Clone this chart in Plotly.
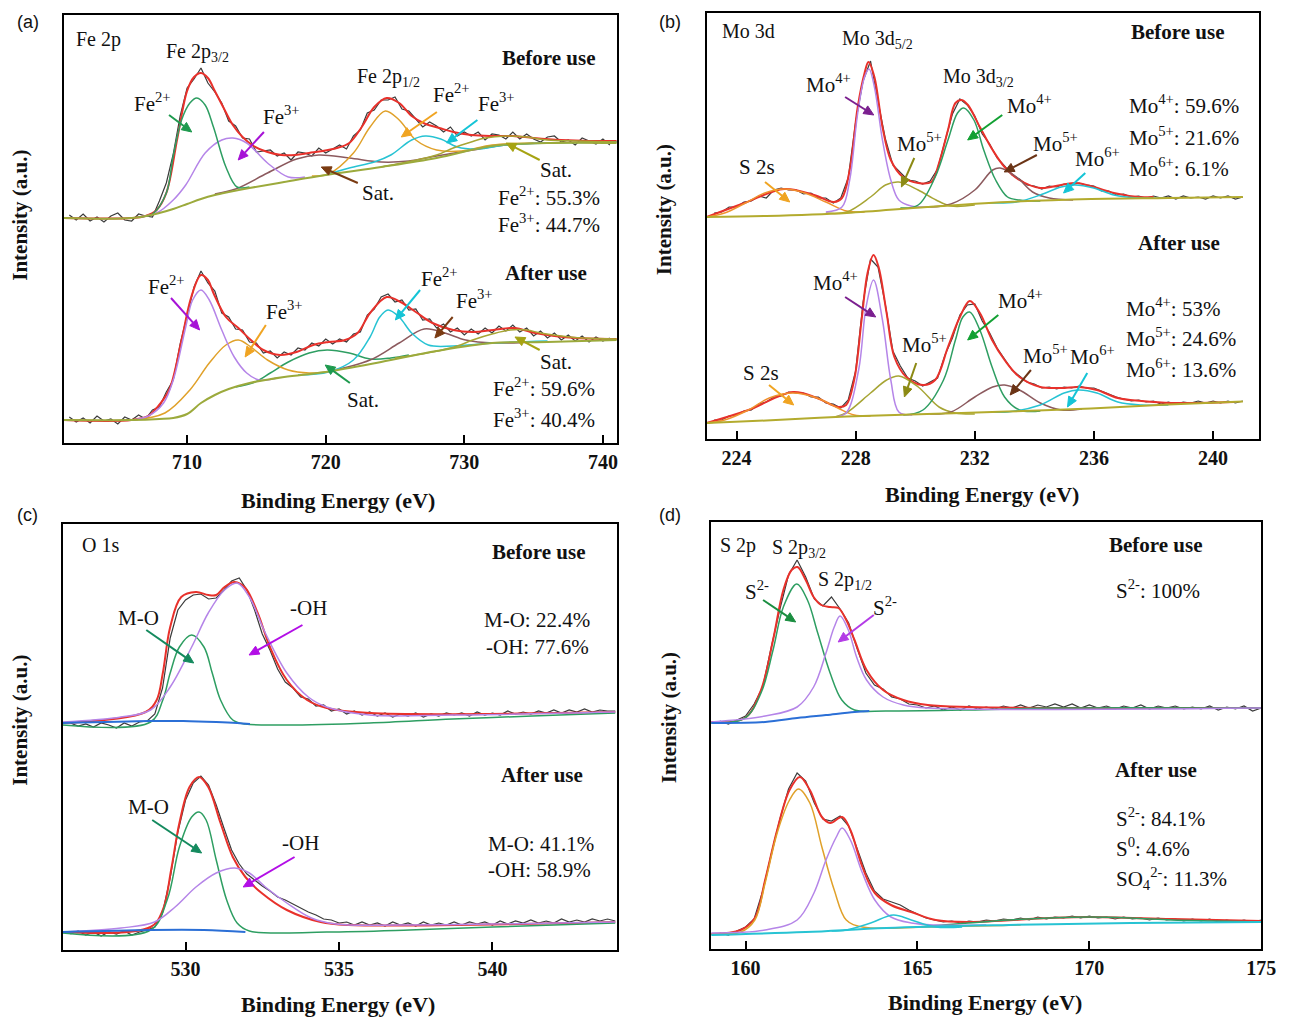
import math
import plotly.graph_objects as go

W, H = 1295, 1018
SERIF = "Liberation Serif, Times New Roman, serif"
SANS = "Liberation Sans, Arial, sans-serif"

# ================= DATA (intensity in arbitrary units) =================
# ---- (a) Fe 2p ----
fe_ticks = [710, 720, 730, 740]
fe_raw_x = [701.5, 702, 702.5, 703, 703.5, 704, 704.5, 705, 705.5, 706, 706.5, 707, 707.5, 708, 708.5, 709, 709.5, 710,
            710.5, 711, 711.5, 712, 712.5, 713, 713.5, 714, 714.5, 715, 715.5, 716, 716.5, 717, 717.5, 718, 718.5, 719,
            719.5, 720, 720.5, 721, 721.5, 722, 722.5, 723, 723.5, 724, 724.5, 725, 725.5, 726, 726.5, 727, 727.5, 728,
            728.5, 729, 729.5, 730, 730.5, 731, 731.5, 732, 732.5, 733, 733.5, 734, 734.5, 735, 735.5, 736, 736.5, 737,
            737.5, 738, 738.5, 739, 739.5, 740, 740.5]
fe_raw_before = [228, 223, 229, 222, 226, 221, 227, 230, 223, 222,
                 229, 227, 226, 242, 260, 289, 327, 355, 364, 375,
                 360, 351, 340, 322, 317, 305, 304, 291, 292, 293,
                 287, 290, 283, 291, 290, 287, 295, 290, 294, 298,
                 294, 307, 313, 330, 333, 343, 343, 346, 334, 332,
                 324, 316, 321, 317, 311, 316, 307, 311, 307, 311,
                 303, 309, 308, 304, 311, 304, 309, 304, 301, 306,
                 307, 301, 303, 298, 305, 302, 299, 304, 298]
fe_raw_after = [26, 21, 25, 20, 27, 22, 24, 19, 26, 23,
                28, 24, 33, 36, 51, 63, 99, 126, 156, 172,
                160, 152, 130, 126, 114, 113, 101, 100, 90, 92,
                85, 91, 88, 95, 93, 100, 97, 104, 99, 104,
                101, 109, 111, 128, 134, 146, 149, 141, 143, 133,
                134, 123, 124, 115, 119, 111, 115, 108, 114, 109,
                115, 110, 117, 112, 118, 111, 115, 107, 112, 105,
                110, 103, 108, 102, 107, 101, 106, 102, 105]
fe_bg_x = [701.1, 706.0, 708.0, 709.0, 710.0, 711.0, 712.0, 713.0, 714.5, 717.0, 720.0, 724.0, 728.0, 732.0, 736.0, 741.0]
fe_bg_before = [225, 225, 230, 234, 239, 244, 248, 251, 255, 261, 268, 276, 285, 297, 300, 300]
fe_bg_after = [23, 23, 24, 25, 29, 40, 48, 54, 60, 66, 71, 81, 92, 100, 101, 103]
fe_env_before_x = [701.1, 706.0, 707.0, 707.8, 708.5, 709.3, 710.0, 710.5, 711.0, 711.5, 712.0, 712.6, 713.3, 714.0,
                   714.8, 715.8, 716.8, 717.8, 718.8, 719.8, 720.8, 721.7, 722.6, 723.5, 724.4, 725.3, 726.2, 727.2,
                   728.2, 729.2, 730.5, 732.0, 733.5, 735.0, 737.0, 739.0, 741.0]
fe_env_before = [225, 225, 227, 233, 250, 305, 352, 366, 370, 365, 352, 336, 318, 306, 297, 291, 288, 288, 290, 292,
                 295, 300, 316, 336, 345, 340, 327, 319, 315, 311, 308, 307, 307, 305, 303, 302, 302]
fe_b_fe2_32_x = [706.5, 707.5, 708.5, 709.0, 709.6, 710.2, 710.7, 711.3, 711.9, 712.8, 713.6, 714.5]
fe_b_fe2_32 = [226, 229, 250, 287, 323, 340, 345, 338, 316, 276, 256, 256]
fe_b_fe3_32_x = [706.5, 707.8, 709.0, 709.9, 711.3, 712.5, 713.3, 714.3, 715.8, 717.3, 718.5]
fe_b_fe3_32 = [226, 230, 243, 258, 290, 303, 305, 300, 280, 266, 266]
fe_b_sat1_x = [712.0, 713.5, 715.8, 717.9, 719.5, 721.7, 724.0, 726.0, 728.0, 730.6, 733.0, 736.0]
fe_b_sat1 = [249, 254, 270, 284, 288, 285, 281, 282, 287, 293, 298, 300]
fe_b_fe2_12_x = [719.0, 720.2, 722.0, 723.2, 724.3, 725.3, 726.5, 728.0, 729.8, 732.0, 735.0]
fe_b_fe2_12 = [267, 269, 290, 316, 332, 323, 303, 293, 292, 298, 300]
fe_b_fe3_12_x = [720.0, 721.7, 723.5, 724.7, 726.2, 727.2, 728.3, 729.5, 731.0, 733.0, 736.0, 741.0]
fe_b_fe3_12 = [268, 275, 281, 288, 303, 307, 304, 296, 294, 298, 300, 301]
fe_b_sat2_x = [724.0, 726.2, 728.0, 729.2, 730.5, 731.5, 733.0, 734.5, 736.0, 738.1, 741.0]
fe_b_sat2 = [276, 282, 288, 295, 301, 305, 307, 306, 303, 302, 301]
fe_env_after_x = [701.1, 706.0, 707.2, 707.8, 708.7, 709.6, 710.3, 711.0, 711.5, 711.9, 712.8, 713.7, 714.6, 715.5,
                  716.7, 717.9, 719.1, 720.2, 721.4, 722.3, 723.2, 724.4, 725.4, 726.5, 727.7, 729.2, 730.6, 732.1,
                  733.6, 735.1, 736.5, 738.1, 741.0]
fe_env_after = [23, 23, 27, 35, 53, 103, 146, 168, 163, 150, 126, 115, 103, 93, 88, 91, 98, 101, 103, 110, 130, 146,
                141, 131, 120, 113, 111, 113, 115, 110, 107, 105, 104]
fe_a_fe2_32_x = [706.0, 707.2, 708.3, 709.0, 709.9, 710.4, 711.0, 711.6, 712.5, 713.4, 714.3, 715.2, 716.5]
fe_a_fe2_32 = [23, 27, 40, 63, 116, 143, 153, 143, 113, 86, 70, 63, 65]
fe_a_fe3_32_x = [706.0, 708.4, 710.2, 711.6, 712.8, 713.7, 714.6, 715.8, 717.3, 718.8, 720.0]
fe_a_fe3_32 = [23, 30, 53, 80, 98, 103, 96, 83, 73, 70, 71]
fe_a_sat1_x = [713.5, 714.9, 716.0, 717.3, 718.8, 720.1, 721.7, 723.2, 724.7, 726.0]
fe_a_sat1 = [56, 61, 70, 81, 90, 93, 90, 84, 85, 88]
fe_a_fe2_12_x = [718.0, 720.2, 722.0, 723.2, 723.9, 724.5, 725.3, 726.2, 727.4, 729.2, 732.1, 736.0]
fe_a_fe2_12 = [68, 71, 83, 106, 126, 133, 126, 110, 98, 97, 100, 102]
fe_a_fe3_12_x = [720.0, 723.2, 725.3, 727.1, 728.6, 730.1, 732.1, 735.0]
fe_a_fe3_12 = [71, 83, 100, 114, 110, 103, 100, 101]
fe_a_sat2_x = [725.0, 727.7, 729.5, 730.6, 732.0, 733.3, 734.5, 735.5, 737.0, 738.5, 741.0]
fe_a_sat2 = [85, 91, 97, 103, 109, 113, 113, 110, 107, 105, 104]

# ---- (b) Mo 3d ----
mo_ticks = [224, 228, 232, 236, 240]
mo_raw_x = [223.25, 223.5, 223.75, 224.0, 224.25, 224.5, 224.75, 225.0, 225.25, 225.5, 225.75, 226.0, 226.25, 226.5,
            226.75, 227.0, 227.25, 227.5, 227.75, 228.0, 228.25, 228.5, 228.75, 229.0, 229.25, 229.5, 229.75, 230.0,
            230.25, 230.5, 230.75, 231.0, 231.25, 231.5, 231.75, 232.0, 232.25, 232.5, 232.75, 233.0, 233.25, 233.5,
            233.75, 234.0, 234.25, 234.5, 234.75, 235.0, 235.25, 235.5, 235.75, 236.0, 236.25, 236.5, 236.75, 237.0,
            237.25, 237.5, 237.75, 238.0, 238.25, 238.5, 238.75, 239.0, 239.25, 239.5, 239.75, 240.0, 240.25, 240.5,
            240.75, 241.0]
mo_raw_before = [226, 227, 232, 232, 237, 238, 243, 241, 249, 251, 249, 249, 245, 246, 241, 241, 236, 241, 261, 317,
                 358, 378, 338, 300, 274, 266, 259, 258, 255, 258, 270, 298, 325, 340, 334, 323, 305, 295, 281, 273,
                 264, 260, 254, 253, 250, 253, 252, 255, 254, 256, 254, 253, 248, 248, 244, 245, 242, 243, 241, 243,
                 241, 243, 240, 243, 241, 242, 240, 243, 241, 243, 240, 242]
mo_raw_after = [19, 19, 23, 24, 28, 29, 35, 37, 42, 43, 47, 46, 46, 42, 42, 36, 35, 31, 39, 68,
                137, 180, 172, 134, 88, 73, 61, 58, 53, 57, 61, 84, 101, 124, 134, 135, 118, 106, 91, 80,
                69, 63, 57, 55, 51, 52, 50, 52, 51, 53, 51, 51, 48, 45, 42, 40, 38, 39, 37, 38,
                35, 37, 35, 37, 36, 38, 36, 38, 36, 38, 36, 38]
mo_bg_x = [223.0, 225.0, 227.7, 230.4, 233.1, 235.9, 238.5, 241.0]
mo_bg_before = [222, 223, 226, 232, 237, 240, 241, 242]
mo_bg_after = [16, 18.5, 22.5, 25, 27.5, 30.5, 34.5, 37.5]
mo_env_before_x = [223.0, 224.27, 225.6, 226.6, 227.27, 227.54, 227.8, 228.07, 228.3, 228.43, 228.63, 228.9, 229.18,
                   229.59, 230.1, 230.54, 230.8, 231.1, 231.35, 231.56, 231.77, 232.17, 232.6, 233.0, 233.5, 234.2,
                   234.9, 235.4, 236.0, 236.67, 237.5, 238.0]
mo_env_before = [222, 236, 250, 244, 237, 241, 269, 332, 366, 377, 362, 312, 279, 262, 256, 257, 276, 309, 336, 339,
                 334, 312, 289, 272, 259, 251, 254, 256, 252, 246, 242, 242]
mo_b_s2s_x = [223.0, 223.6, 224.3, 224.95, 225.6, 226.3, 227.0, 227.7, 228.3]
mo_b_s2s = [222, 226, 236, 246, 250, 246, 237, 228, 227]
mo_b_mo4_52_x = [227.0, 227.54, 227.8, 228.07, 228.3, 228.45, 228.63, 228.9, 229.18, 229.45, 229.86, 230.5]
mo_b_mo4_52 = [227, 232, 259, 326, 362, 370, 352, 299, 259, 239, 233, 232]
mo_b_mo5_52_x = [227.0, 227.7, 228.5, 229.0, 229.45, 230.1, 230.7, 231.2, 232.0]
mo_b_mo5_52 = [226, 227, 242, 254, 257, 249, 239, 233, 234]
mo_b_mo4_32_x = [229.5, 230.1, 230.67, 231.1, 231.42, 231.63, 231.97, 232.3, 232.7, 233.1, 233.5, 234.2]
mo_b_mo4_32 = [231, 234, 262, 299, 326, 331, 319, 289, 259, 242, 239, 238]
mo_b_mo5_32_x = [230.5, 231.2, 232.0, 232.6, 232.85, 233.4, 233.94, 234.5, 235.3]
mo_b_mo5_32 = [232, 235, 249, 269, 271, 262, 247, 241, 239]
mo_b_mo6_x = [232.5, 233.4, 234.2, 234.9, 235.37, 235.99, 236.67, 237.5, 238.5]
mo_b_mo6 = [236, 237, 244, 252, 254, 251, 244, 241, 241]
mo_env_after_x = [223.0, 224.4, 225.9, 226.7, 227.4, 227.68, 227.95, 228.2, 228.4, 228.6, 228.77, 229.04, 229.3,
                  229.7, 230.26, 230.67, 231.1, 231.5, 231.83, 232.17, 232.58, 233.0, 233.5, 234.2, 234.9, 235.5,
                  236.1, 236.8, 237.6, 238.6, 240.7]
mo_env_after = [16, 29, 47, 41, 32, 34, 59, 119, 166, 184, 172, 126, 82, 62, 54, 59, 92, 122, 138, 126, 99, 79, 62,
                52, 51, 52, 49, 41, 38, 36, 37]
mo_a_s2s_x = [223.0, 223.6, 224.4, 225.1, 225.9, 226.7, 227.4, 227.95, 228.5]
mo_a_s2s = [16, 19, 29, 41, 46, 41, 31, 24, 23]
mo_a_mo4_52_x = [227.3, 227.68, 228.1, 228.35, 228.6, 228.9, 229.18, 229.45, 229.9]
mo_a_mo4_52 = [22, 26, 69, 132, 159, 119, 59, 27, 24]
mo_a_mo5_52_x = [227.3, 227.68, 228.5, 229.04, 229.45, 230.1, 230.8, 231.35, 232.0]
mo_a_mo5_52 = [22, 26, 46, 59, 63, 52, 32, 26, 25]
mo_a_mo4_32_x = [229.6, 230.26, 230.95, 231.35, 231.6, 231.83, 232.17, 232.58, 233.0, 233.5, 234.2]
mo_a_mo4_32 = [24, 29, 59, 99, 122, 127, 109, 72, 42, 29, 28]
mo_a_mo5_32_x = [230.5, 231.2, 232.0, 232.6, 233.0, 233.5, 234.2, 234.9, 235.6]
mo_a_mo5_32 = [25, 27, 42, 52, 54, 49, 36, 29, 30]
mo_a_mo6_x = [232.6, 233.1, 234.2, 235.0, 235.5, 236.1, 236.8, 237.6, 238.5]
mo_a_mo6 = [27, 27, 34, 46, 49, 46, 37, 34, 34]

# ---- (c) O 1s ----
o_ticks = [530, 535, 540]
o_raw_x = [526.25, 526.5, 526.75, 527.0, 527.25, 527.5, 527.75, 528.0, 528.25, 528.5, 528.75, 529.0, 529.25, 529.5,
           529.75, 530.0, 530.25, 530.5, 530.75, 531.0, 531.25, 531.5, 531.75, 532.0, 532.25, 532.5, 532.75, 533.0,
           533.25, 533.5, 533.75, 534.0, 534.25, 534.5, 534.75, 535.0, 535.25, 535.5, 535.75, 536.0, 536.25, 536.5,
           536.75, 537.0, 537.25, 537.5, 537.75, 538.0, 538.25, 538.5, 538.75, 539.0, 539.25, 539.5, 539.75, 540.0,
           540.25, 540.5, 540.75, 541.0, 541.25, 541.5, 541.75, 542.0, 542.25, 542.5, 542.75, 543.0, 543.25, 543.5,
           543.75, 544.0]
o_raw_before = [227, 224, 226, 223, 227, 225, 222, 227, 224, 228, 229, 236, 262, 312, 340, 350, 355, 356, 351, 352,
                360, 369, 372, 360, 340, 316, 300, 281, 268, 262, 253, 251, 244, 245, 239, 241, 236, 239, 235, 238,
                234, 237, 233, 236, 234, 237, 233, 236, 234, 237, 235, 237, 234, 238, 235, 237, 235, 239, 236, 238,
                236, 239, 237, 240, 237, 240, 238, 241, 238, 240, 239, 239]
o_raw_after = [16, 19, 15, 18, 14, 18, 16, 19, 15, 18, 20, 23, 37, 72, 118, 150, 167, 174, 165, 145,
               122, 100, 86, 76, 70, 64, 59, 53, 50, 46, 42, 38, 35, 31, 30, 27, 28, 25, 28, 25,
               27, 24, 28, 25, 27, 24, 28, 25, 27, 25, 28, 25, 28, 26, 28, 25, 29, 26, 29, 27,
               30, 27, 29, 27, 31, 28, 30, 28, 31, 29, 31, 29]
o_env_before_x = [526.0, 528.7, 529.06, 529.26, 529.5, 529.86, 530.34, 530.74, 531.0, 531.27, 531.6, 531.95, 532.35,
                  532.75, 533.3, 533.96, 534.6, 536.0, 544.0]
o_env_before = [227, 238, 250, 277, 323, 353, 358, 355, 355, 363, 368, 362, 337, 303, 270, 250, 242, 237, 238]
o_b_bg_x = [526.0, 528.86, 529.93, 531.0, 531.68, 532.1]
o_b_bg = [227, 229, 229, 228, 227, 226]
o_b_mo_x = [526.0, 528.86, 529.26, 529.5, 529.8, 530.2, 530.6, 530.87, 531.14, 531.54, 531.95, 533.3, 536.0, 538.7,
            541.3, 544.0]
o_b_mo = [225, 228, 250, 277, 303, 315, 303, 277, 250, 230, 226, 225, 227, 231, 234, 237]
o_b_oh_x = [526.0, 527.9, 528.86, 529.5, 530.2, 530.74, 531.27, 531.68, 532.08, 532.6, 533.3, 534.0, 534.6, 536.0,
            538.7, 544.0]
o_b_oh = [228, 233, 240, 263, 303, 337, 360, 367, 353, 317, 277, 253, 243, 235, 235, 238]
o_env_after_x = [526.0, 528.86, 529.26, 529.53, 529.8, 530.13, 530.44, 530.74, 531.14, 531.54, 531.95, 532.48, 533.3,
                 534.4, 535.3, 544.0]
o_env_after = [18, 23, 40, 80, 127, 163, 173, 163, 127, 93, 73, 57, 40, 28, 25, 28]
o_a_bg_x = [526.0, 528.86, 530.6, 531.95]
o_a_bg = [18, 20, 20, 18]
o_a_mo_x = [526.0, 528.86, 529.4, 529.8, 530.2, 530.44, 530.67, 531.0, 531.34, 531.68, 532.08, 534.6, 537.3, 540.0,
            544.0]
o_a_mo = [17, 20, 50, 103, 133, 138, 130, 90, 50, 27, 19, 18, 20, 23, 27]
o_a_oh_x = [526.0, 527.9, 528.99, 529.66, 530.34, 531.0, 531.6, 532.08, 532.6, 533.3, 534.1, 534.9, 537.0, 544.0]
o_a_oh = [18, 22, 28, 43, 63, 77, 82, 77, 63, 47, 32, 26, 25, 28]

# ---- (d) S 2p ----
s_ticks = [160, 165, 170, 175]
s_raw_x = [159.25, 159.5, 159.75, 160.0, 160.25, 160.5, 160.75, 161.0, 161.25, 161.5, 161.75, 162.0, 162.25, 162.5,
           162.75, 163.0, 163.25, 163.5, 163.75, 164.0, 164.25, 164.5, 164.75, 165.0, 165.25, 165.5, 165.75, 166.0,
           166.25, 166.5, 166.75, 167.0, 167.25, 167.5, 167.75, 168.0, 168.25, 168.5, 168.75, 169.0, 169.25, 169.5,
           169.75, 170.0, 170.25, 170.5, 170.75, 171.0, 171.25, 171.5, 171.75, 172.0, 172.25, 172.5, 172.75, 173.0,
           173.25, 173.5, 173.75, 174.0, 174.25, 174.5, 174.75, 175.0]
s_raw_before = [228, 225, 229, 233, 245, 262, 302, 340, 374, 389, 372, 350, 343, 352, 340, 326,
                300, 276, 264, 260, 252, 250, 245, 244, 241, 243, 239, 242, 239, 243, 240, 242,
                240, 243, 241, 244, 241, 244, 242, 245, 242, 245, 241, 244, 241, 243, 240, 243,
                241, 244, 240, 243, 241, 243, 240, 242, 240, 243, 239, 242, 240, 243, 238, 241]
s_raw_after = [16, 14, 18, 22, 30, 58, 95, 130, 160, 176, 168, 146, 130, 128, 133, 123,
               100, 76, 58, 50, 47, 44, 39, 35, 31, 29, 27, 28, 26, 28, 27, 29,
               28, 30, 29, 31, 29, 32, 30, 32, 31, 33, 31, 33, 31, 32, 30, 32,
               30, 31, 29, 31, 29, 30, 28, 30, 28, 30, 27, 29, 27, 29, 27, 29]
s_env_before_x = [159.0, 159.98, 160.45, 160.8, 161.1, 161.34, 161.51, 161.75, 161.98, 162.2, 162.46, 162.7, 162.93,
                  163.17, 163.52, 164.0, 164.59, 165.3, 166.5, 175.0]
s_env_before = [227, 231, 259, 309, 359, 379, 382, 369, 352, 344, 342, 341, 329, 309, 279, 259, 249, 244, 242, 241]
s_b_bg_x = [159.0, 160.57, 161.5, 162.34, 163.17, 163.6]
s_b_bg = [226, 227, 231, 234, 237, 238]
s_b_s32_x = [159.0, 159.98, 160.45, 160.8, 161.1, 161.49, 161.8, 162.1, 162.46, 162.8, 163.17, 164.1, 166.5, 168.84,
             175.0]
s_b_s32 = [226, 231, 256, 299, 342, 365, 349, 316, 276, 249, 239, 238, 239, 241, 241]
s_b_s12_x = [159.0, 160.57, 161.5, 161.98, 162.34, 162.58, 162.75, 162.99, 163.23, 163.52, 164.0, 164.59, 165.3, 175.0]
s_b_s12 = [227, 233, 242, 262, 296, 322, 333, 319, 292, 269, 252, 244, 241, 241]
s_env_after_x = [159.0, 159.86, 160.27, 160.57, 160.92, 161.28, 161.58, 161.87, 162.22, 162.46, 162.81, 163.05, 163.4,
                 163.76, 164.23, 164.82, 165.53, 166.48, 168.84, 170.0, 172.4, 175.0]
s_env_after = [15, 19, 31, 69, 119, 159, 172, 159, 132, 126, 132, 119, 82, 56, 44, 37, 29, 27, 31, 32, 30, 28]
s_a_bg_x = [159.0, 161.75, 164.1, 167.66, 171.2, 175.0]
s_a_bg = [14, 17, 21, 24, 26, 27]
s_a_s32_x = [159.0, 159.86, 160.27, 160.57, 160.92, 161.28, 161.54, 161.87, 162.22, 162.58, 162.93, 163.4, 165.3, 168.0]
s_a_s32 = [15, 17, 29, 66, 116, 149, 160, 146, 102, 59, 29, 22, 22, 24]
s_a_s12_x = [159.0, 160.57, 161.5, 161.99, 162.34, 162.64, 162.81, 163.05, 163.4, 163.76, 164.23, 164.82, 165.53, 167.0]
s_a_s12 = [16, 19, 29, 56, 89, 112, 121, 109, 76, 49, 32, 26, 24, 24]
s_a_s0_x = [162.5, 162.93, 163.64, 164.3, 164.82, 165.53, 166.3]
s_a_s0 = [18, 19, 26, 34, 29, 22, 22]
s_a_so4_x = [165.0, 166.48, 167.66, 168.84, 170.0, 171.2, 172.4, 173.57, 175.0]
s_a_so4 = [22, 26, 29, 31, 32, 31, 29, 28, 27]

# ================= STYLE =================
RED = '#e8312b'
RAW = '#3b3b3b'
GREEN = '#2e9e62'
PURPLE = '#b585e8'
ORANGE = '#e0a12a'
CYAN = '#27c3d3'
BROWN = '#8c5a5e'
OLIVE = '#a7a534'
BGOLIVE = '#9caa3c'
BLUE = '#2b6fd6'
S2S = '#f0922e'

fig = go.Figure()


def curve(n, xs, ys, color, width=1.5, shape='spline'):
    fig.add_trace(go.Scatter(
        x=xs, y=ys, mode='lines',
        line=dict(color=color, width=width, shape=shape),
        xaxis='x' if n == 1 else f'x{n}', yaxis='y' if n == 1 else f'y{n}',
        showlegend=False, hoverinfo='skip'))


# (a)
curve(1, fe_raw_x, fe_raw_before, RAW, 1.2, 'linear')
curve(1, fe_raw_x, fe_raw_after, RAW, 1.2, 'linear')
curve(1, fe_env_before_x, fe_env_before, RED, 2)
curve(1, fe_env_after_x, fe_env_after, RED, 2)
curve(1, fe_b_sat1_x, fe_b_sat1, BROWN)
curve(1, fe_b_fe3_32_x, fe_b_fe3_32, PURPLE)
curve(1, fe_b_fe2_32_x, fe_b_fe2_32, GREEN)
curve(1, fe_b_fe2_12_x, fe_b_fe2_12, ORANGE)
curve(1, fe_b_fe3_12_x, fe_b_fe3_12, CYAN)
curve(1, fe_b_sat2_x, fe_b_sat2, OLIVE)
curve(1, fe_a_sat1_x, fe_a_sat1, GREEN)
curve(1, fe_a_fe3_32_x, fe_a_fe3_32, ORANGE)
curve(1, fe_a_fe2_32_x, fe_a_fe2_32, PURPLE)
curve(1, fe_a_fe3_12_x, fe_a_fe3_12, BROWN)
curve(1, fe_a_fe2_12_x, fe_a_fe2_12, CYAN)
curve(1, fe_a_sat2_x, fe_a_sat2, OLIVE)
curve(1, fe_bg_x, fe_bg_before, BGOLIVE, 2)
curve(1, fe_bg_x, fe_bg_after, BGOLIVE, 2)

# (b)
curve(2, mo_raw_x, mo_raw_before, RAW, 1.2, 'linear')
curve(2, mo_raw_x, mo_raw_after, RAW, 1.2, 'linear')
curve(2, mo_env_before_x, mo_env_before, RED, 2)
curve(2, mo_env_after_x, mo_env_after, RED, 2)
for xs, ys, c in [(mo_b_s2s_x, mo_b_s2s, S2S), (mo_b_mo5_52_x, mo_b_mo5_52, OLIVE),
                  (mo_b_mo4_52_x, mo_b_mo4_52, PURPLE), (mo_b_mo5_32_x, mo_b_mo5_32, BROWN),
                  (mo_b_mo4_32_x, mo_b_mo4_32, GREEN), (mo_b_mo6_x, mo_b_mo6, CYAN),
                  (mo_a_s2s_x, mo_a_s2s, S2S), (mo_a_mo5_52_x, mo_a_mo5_52, OLIVE),
                  (mo_a_mo4_52_x, mo_a_mo4_52, PURPLE), (mo_a_mo5_32_x, mo_a_mo5_32, BROWN),
                  (mo_a_mo4_32_x, mo_a_mo4_32, GREEN), (mo_a_mo6_x, mo_a_mo6, CYAN)]:
    curve(2, xs, ys, c)
curve(2, mo_bg_x, mo_bg_before, '#b3ab2e', 2)
curve(2, mo_bg_x, mo_bg_after, '#b3ab2e', 2)

# (c)
curve(3, o_raw_x, o_raw_before, RAW, 1.2, 'linear')
curve(3, o_raw_x, o_raw_after, RAW, 1.2, 'linear')
curve(3, o_env_before_x, o_env_before, RED, 2)
curve(3, o_env_after_x, o_env_after, RED, 2)
curve(3, o_b_mo_x, o_b_mo, GREEN)
curve(3, o_b_oh_x, o_b_oh, PURPLE)
curve(3, o_a_mo_x, o_a_mo, GREEN)
curve(3, o_a_oh_x, o_a_oh, PURPLE)
curve(3, o_b_bg_x, o_b_bg, BLUE, 2)
curve(3, o_a_bg_x, o_a_bg, BLUE, 2)

# (d)
curve(4, s_raw_x, s_raw_before, RAW, 1.2, 'linear')
curve(4, s_raw_x, s_raw_after, RAW, 1.2, 'linear')
curve(4, s_env_before_x, s_env_before, RED, 2)
curve(4, s_env_after_x, s_env_after, RED, 2)
curve(4, s_b_s32_x, s_b_s32, GREEN)
curve(4, s_b_s12_x, s_b_s12, PURPLE)
curve(4, s_a_so4_x, s_a_so4, GREEN)
curve(4, s_a_s32_x, s_a_s32, ORANGE)
curve(4, s_a_s12_x, s_a_s12, PURPLE)
curve(4, s_a_s0_x, s_a_s0, CYAN)
curve(4, s_b_bg_x, s_b_bg, BLUE, 2)
curve(4, s_a_bg_x, s_a_bg, CYAN, 2)


# ================= AXES =================
def xax(dom, rng, ticks, anchor):
    return dict(domain=dom, range=rng, anchor=anchor, tickvals=ticks, ticks='inside', ticklen=8, tickwidth=1.5,
                tickcolor='black', showline=True, linecolor='black', linewidth=1.5, mirror=True, showgrid=False,
                zeroline=False, tickfont=dict(family=SERIF, size=20, color='#111', weight='bold'))


def yax(dom, rng, anchor):
    return dict(domain=dom, range=rng, anchor=anchor, showticklabels=False, ticks='', showline=True,
                linecolor='black', linewidth=1.5, mirror=True, showgrid=False, zeroline=False)


def fx(a, b):
    return [a / W, b / W]


def fy(top, bottom):
    return [1 - bottom / H, 1 - top / H]


layout = dict(
    width=W, height=H, margin=dict(l=0, r=0, t=0, b=0),
    paper_bgcolor='white', plot_bgcolor='white', showlegend=False,
    xaxis=xax(fx(64.5, 624), [701.1, 741.0], fe_ticks, 'y'),
    yaxis=yax(fy(15, 443), [0, 428], 'x'),
    xaxis2=xax(fx(715, 1274), [223.0, 241.55], mo_ticks, 'y2'),
    yaxis2=yax(fy(12.5, 439), [0, 426.5], 'x2'),
    xaxis3=xax(fx(63.5, 624), [526.0, 544.05], o_ticks, 'y3'),
    yaxis3=yax(fy(524, 950), [0, 426], 'x3'),
    xaxis4=xax(fx(719.5, 1276), [159.0, 175.0], s_ticks, 'y4'),
    yaxis4=yax(fy(522, 949), [0, 427], 'x4'),
)

anns = []
shapes = []


def T(text, px, py, size=21, bold=False, anchor='center', family=SERIF, angle=0):
    anns.append(dict(text=text, x=px / W, y=1 - py / H, xref='paper', yref='paper', xanchor=anchor,
                     yanchor='middle', showarrow=False, textangle=angle,
                     font=dict(family=family, size=size, color='#111', weight='bold' if bold else 'normal')))


def A(tx, ty, hx, hy, color, head=10.0, half=4.5):
    # arrow drawn as a line plus a filled triangular head (paper coordinates)
    dx, dy = hx - tx, hy - ty
    L = math.hypot(dx, dy)
    ux, uy = dx / L, dy / L
    bx, by = hx - ux * head, hy - uy * head
    px_, py_ = -uy * half, ux * half

    def P(x, y):
        return f"{x / W:.5f},{1 - y / H:.5f}"

    shapes.append(dict(type='line', xref='paper', yref='paper', x0=tx / W, y0=1 - ty / H, x1=bx / W,
                       y1=1 - by / H, line=dict(color=color, width=2)))
    shapes.append(dict(type='path', xref='paper', yref='paper',
                       path=f"M{P(hx, hy)} L{P(bx + px_, by + py_)} L{P(bx - px_, by - py_)} Z",
                       fillcolor=color, line=dict(color=color, width=1)))


# panel letters
T('(a)', 28, 22, 18, family=SANS)
T('(b)', 678, 22, 18, family=SANS)
T('(c)', 28, 515, 18, family=SANS)
T('(d)', 678, 515, 18, family=SANS)

# axis titles
for px, py in [(342, 500), (994, 494), (342, 1004), (997, 1002)]:
    T('Binding Energy (eV)', px, py, 22, True)
for px, py in [(20, 215), (672, 210), (20, 720), (677, 718)]:
    T('Intensity (a.u.)', px, py, 21, True, angle=-90)

# (a) labels
T('Fe 2p', 100, 40, 20)
T('Fe 2p<sub>3/2</sub>', 200, 52, 20)
T('Before use', 555, 58, 21, True)
T('Fe<sup>2+</sup>', 154, 103)
T('Fe<sup>3+</sup>', 285, 116)
T('Fe 2p<sub>1/2</sub>', 393, 78, 20)
T('Fe<sup>2+</sup>', 457, 93)
T('Fe<sup>3+</sup>', 502, 103)
T('Sat.', 382, 193)
T('Sat.', 563, 170)
T('Fe<sup>2+</sup>: 55.3%', 502, 197, anchor='left')
T('Fe<sup>3+</sup>: 44.7%', 502, 224, anchor='left')
T('After use', 552, 273, 21, True)
T('Fe<sup>2+</sup>', 168, 285)
T('Fe<sup>3+</sup>', 288, 310)
T('Fe<sup>2+</sup>', 445, 277)
T('Fe<sup>3+</sup>', 480, 300)
T('Sat.', 367, 400)
T('Sat.', 563, 362)
T('Fe<sup>2+</sup>: 59.6%', 497, 387, anchor='left')
T('Fe<sup>3+</sup>: 40.4%', 497, 418, anchor='left')
A(171, 115, 194, 132, '#1e9a4e')
A(267, 132, 241, 160, '#a612d6')
A(362, 183, 325, 167, '#7a3b12')
A(442, 112, 406, 137, '#f0a422')
A(483, 120, 452, 143, '#14c4d6')
A(546, 160, 512, 143, '#a6a312')
A(173, 298, 202, 330, '#a612d6')
A(269, 325, 248, 357, '#f0a422')
A(425, 290, 400, 320, '#14c4d6')
A(458, 317, 440, 338, '#7a3b12')
A(354, 383, 329, 365, '#1e9a4e')
A(546, 350, 521, 337, '#a6a312')

# (b) labels
T('Mo 3d', 757, 31, 20)
T('Mo 3d<sub>5/2</sub>', 888, 40, 20)
T('Before use', 1192, 32, 21, True)
T('Mo<sup>4+</sup>', 838, 83)
T('Mo 3d<sub>3/2</sub>', 990, 78, 20)
T('Mo<sup>4+</sup>', 1042, 105)
T('Mo<sup>5+</sup>', 930, 143)
T('Mo<sup>5+</sup>', 1068, 143)
T('Mo<sup>6+</sup>', 1110, 157)
T('S 2s', 766, 167)
T('Mo<sup>4+</sup>: 59.6%', 1140, 105, anchor='left')
T('Mo<sup>5+</sup>: 21.6%', 1140, 136, anchor='left')
T('Mo<sup>6+</sup>: 6.1%', 1140, 167, anchor='left')
T('After use', 1193, 243, 21, True)
T('Mo<sup>4+</sup>', 845, 282)
T('Mo<sup>4+</sup>', 1032, 300)
T('Mo<sup>5+</sup>', 935, 343)
T('Mo<sup>5+</sup>', 1058, 354)
T('Mo<sup>6+</sup>', 1105, 356)
T('S 2s', 770, 373)
T('Mo<sup>4+</sup>: 53%', 1137, 307, anchor='left')
T('Mo<sup>5+</sup>: 24.6%', 1137, 337, anchor='left')
T('Mo<sup>6+</sup>: 13.6%', 1137, 368, anchor='left')
A(855, 97, 884, 115, '#7b1f8f')
A(1014, 115, 979, 140, '#11a032')
A(925, 158, 912, 187, '#8c8a14')
A(1049, 155, 1016, 172, '#6b3416')
A(1098, 173, 1076, 193, '#14c4d6')
A(774, 182, 799, 202, '#f0a422')
A(855, 297, 886, 317, '#7b1f8f')
A(1010, 315, 979, 340, '#11a032')
A(927, 363, 915, 397, '#8c8a14')
A(1043, 370, 1022, 395, '#6b3416')
A(1100, 373, 1080, 407, '#14c4d6')
A(778, 385, 803, 405, '#f0a422')

# (c) labels
T('O 1s', 102, 545, 20)
T('Before use', 545, 552, 21, True)
T('M-O', 140, 618)
T('-OH', 312, 608)
T('M-O: 22.4%', 488, 620, anchor='left')
T('-OH: 77.6%', 490, 647, anchor='left')
T('After use', 548, 775, 21, True)
T('M-O', 150, 807)
T('-OH', 304, 843)
T('M-O: 41.1%', 492, 844, anchor='left')
T('-OH: 58.9%', 492, 870, anchor='left')
A(148, 630, 196, 663, '#148a5e')
A(306, 625, 252, 655, '#b20ee6')
A(154, 820, 204, 853, '#148a5e')
A(298, 857, 246, 887, '#b20ee6')

# (d) labels
T('S 2p', 747, 545, 20)
T('S 2p<sub>3/2</sub>', 808, 548, 20)
T('Before use', 1170, 545, 21, True)
T('S<sup>2-</sup>', 766, 590)
T('S 2p<sub>1/2</sub>', 855, 580, 20)
T('S<sup>2-</sup>', 895, 606)
T('S<sup>2-</sup>: 100%', 1127, 589, anchor='left')
T('After use', 1170, 770, 21, True)
T('S<sup>2-</sup>: 84.1%', 1127, 817, anchor='left')
T('S<sup>0</sup>: 4.6%', 1127, 847, anchor='left')
T('SO<sub>4</sub><sup>2-</sup>: 11.3%', 1127, 878, anchor='left')
A(772, 600, 805, 622, '#1a8e40')
A(884, 615, 848, 642, '#b33be6')

layout['annotations'] = anns
layout['shapes'] = shapes
fig.update_layout(**layout)
fig.write_html("out.html", config={'displayModeBar': False},
               post_script="document.body.style.margin='0px';document.body.style.overflow='hidden';")
